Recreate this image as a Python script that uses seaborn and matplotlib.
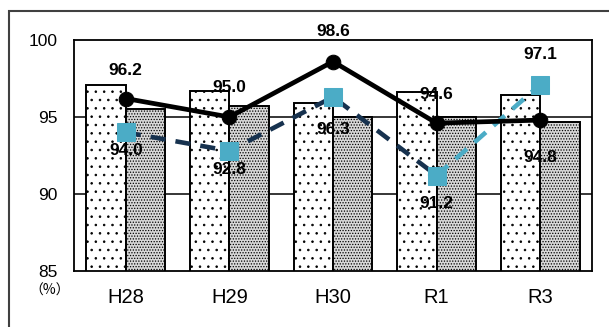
import numpy as np
import pandas as pd
import matplotlib
matplotlib.use("Agg")
import matplotlib.pyplot as plt
import seaborn as sns
from matplotlib.patches import Rectangle

categories = ["H28", "H29", "H30", "R1", "R3"]
bar_a = [97.1, 96.7, 95.9, 96.6, 96.4]
bar_b = [95.5, 95.7, 95.0, 95.0, 94.7]
line_black = [96.2, 95.0, 98.6, 94.6, 94.8]
line_blue = [94.0, 92.8, 96.3, 91.2, 97.1]
yticks = [85, 90, 95, 100]

# label offsets (pixels) for point labels
black_off = [28, 29, 30, 29, -37]
blue_off = [-18, -19, -33, -28, 30]

sns.set_theme(style="white")
plt.rcParams['font.family'] = ['Liberation Sans', 'Noto Sans CJK JP', 'DejaVu Sans']
plt.rcParams['hatch.linewidth'] = 0.6
plt.rcParams['text.color'] = 'black'
plt.rcParams['xtick.color'] = 'black'
plt.rcParams['ytick.color'] = 'black'

fig = plt.figure(figsize=(6.09, 3.27), dpi=100)
ax = fig.add_axes([74/609, 1-271/327, (592-74)/609, (271-40)/327])

df = pd.DataFrame({
    "cat": categories * 2,
    "series": ["A"] * 5 + ["B"] * 5,
    "val": bar_a + bar_b,
})
sns.barplot(data=df, x="cat", y="val", hue="series", order=categories,
            palette=["white", "#d8d8d8"], width=0.76, dodge=True,
            edgecolor="black", linewidth=1.4, legend=False, ax=ax, zorder=2,
            saturation=1)
nA = len(categories)
for i, p in enumerate(ax.patches[:2*nA]):
    if i < nA:
        p.set_hatch("..")
    else:
        p.set_hatch("......")
ax.set_ylim(85, 100)
ax.set_xlim(-0.5, len(categories) - 0.5)

x = np.arange(len(categories))
ax.plot(x[:4], line_blue[:4], color="#17324f", lw=3.3, ls=(0, (3.3, 2.2)), zorder=4)
ax.plot(x[3:], line_blue[3:], color="#4bacc6", lw=3.3, ls=(0, (3.3, 2.2)), zorder=4)
sns.lineplot(x=x, y=line_blue, ax=ax, lw=0, marker="s", markersize=12.5,
             color="#4bacc6", markeredgecolor="#4bacc6", zorder=5)
sns.lineplot(x=x, y=line_black, ax=ax, color="black", lw=3.4, marker="o",
             markersize=10.5, markeredgecolor="black", zorder=6)

for xi, v, off in zip(x, line_black, black_off):
    ax.annotate(f"{v:.1f}", (xi, v), xytext=(0, off*0.72), textcoords="offset points",
                ha="center", va="center", fontsize=12.5, fontweight="bold",
                color="black", annotation_clip=False, zorder=7)
for xi, v, off in zip(x, line_blue, blue_off):
    ax.annotate(f"{v:.1f}", (xi, v), xytext=(0, off*0.72), textcoords="offset points",
                ha="center", va="center", fontsize=12.5, fontweight="bold",
                color="black", annotation_clip=False, zorder=7)

ax.set_yticks(yticks)
ax.set_yticklabels([str(t) for t in yticks], fontsize=12.5, color="black")
for t in [90, 95]:
    ax.axhline(t, color="black", lw=1.1, zorder=1)
ax.set_xticks(x)
ax.set_xticklabels(categories, fontsize=14.5, color="black")
ax.set_xticks(np.arange(-0.5, len(categories)), minor=True)
ax.tick_params(axis="x", which="major", length=0, pad=12)
ax.tick_params(axis="x", which="minor", length=6, width=1.2, color="black", direction="out")
ax.tick_params(axis="y", length=6, width=1.2, color="black", direction="out", pad=6)
ax.set_xlabel("")
ax.set_ylabel("")
for s in ax.spines.values():
    s.set_color("black")
    s.set_linewidth(1.3)

fig.text(50/609, 1-291/327, "（%）", fontsize=10, ha="center", va="center",
         color="black", family=['Noto Sans CJK JP', 'DejaVu Sans'])

fig.patches.append(Rectangle((9/609, -0.2), 1.2, 0.2 + 1 - 11/327, transform=fig.transFigure,
                             fill=False, edgecolor="#404040", lw=1.5))

fig.savefig("out.png", dpi=100)
